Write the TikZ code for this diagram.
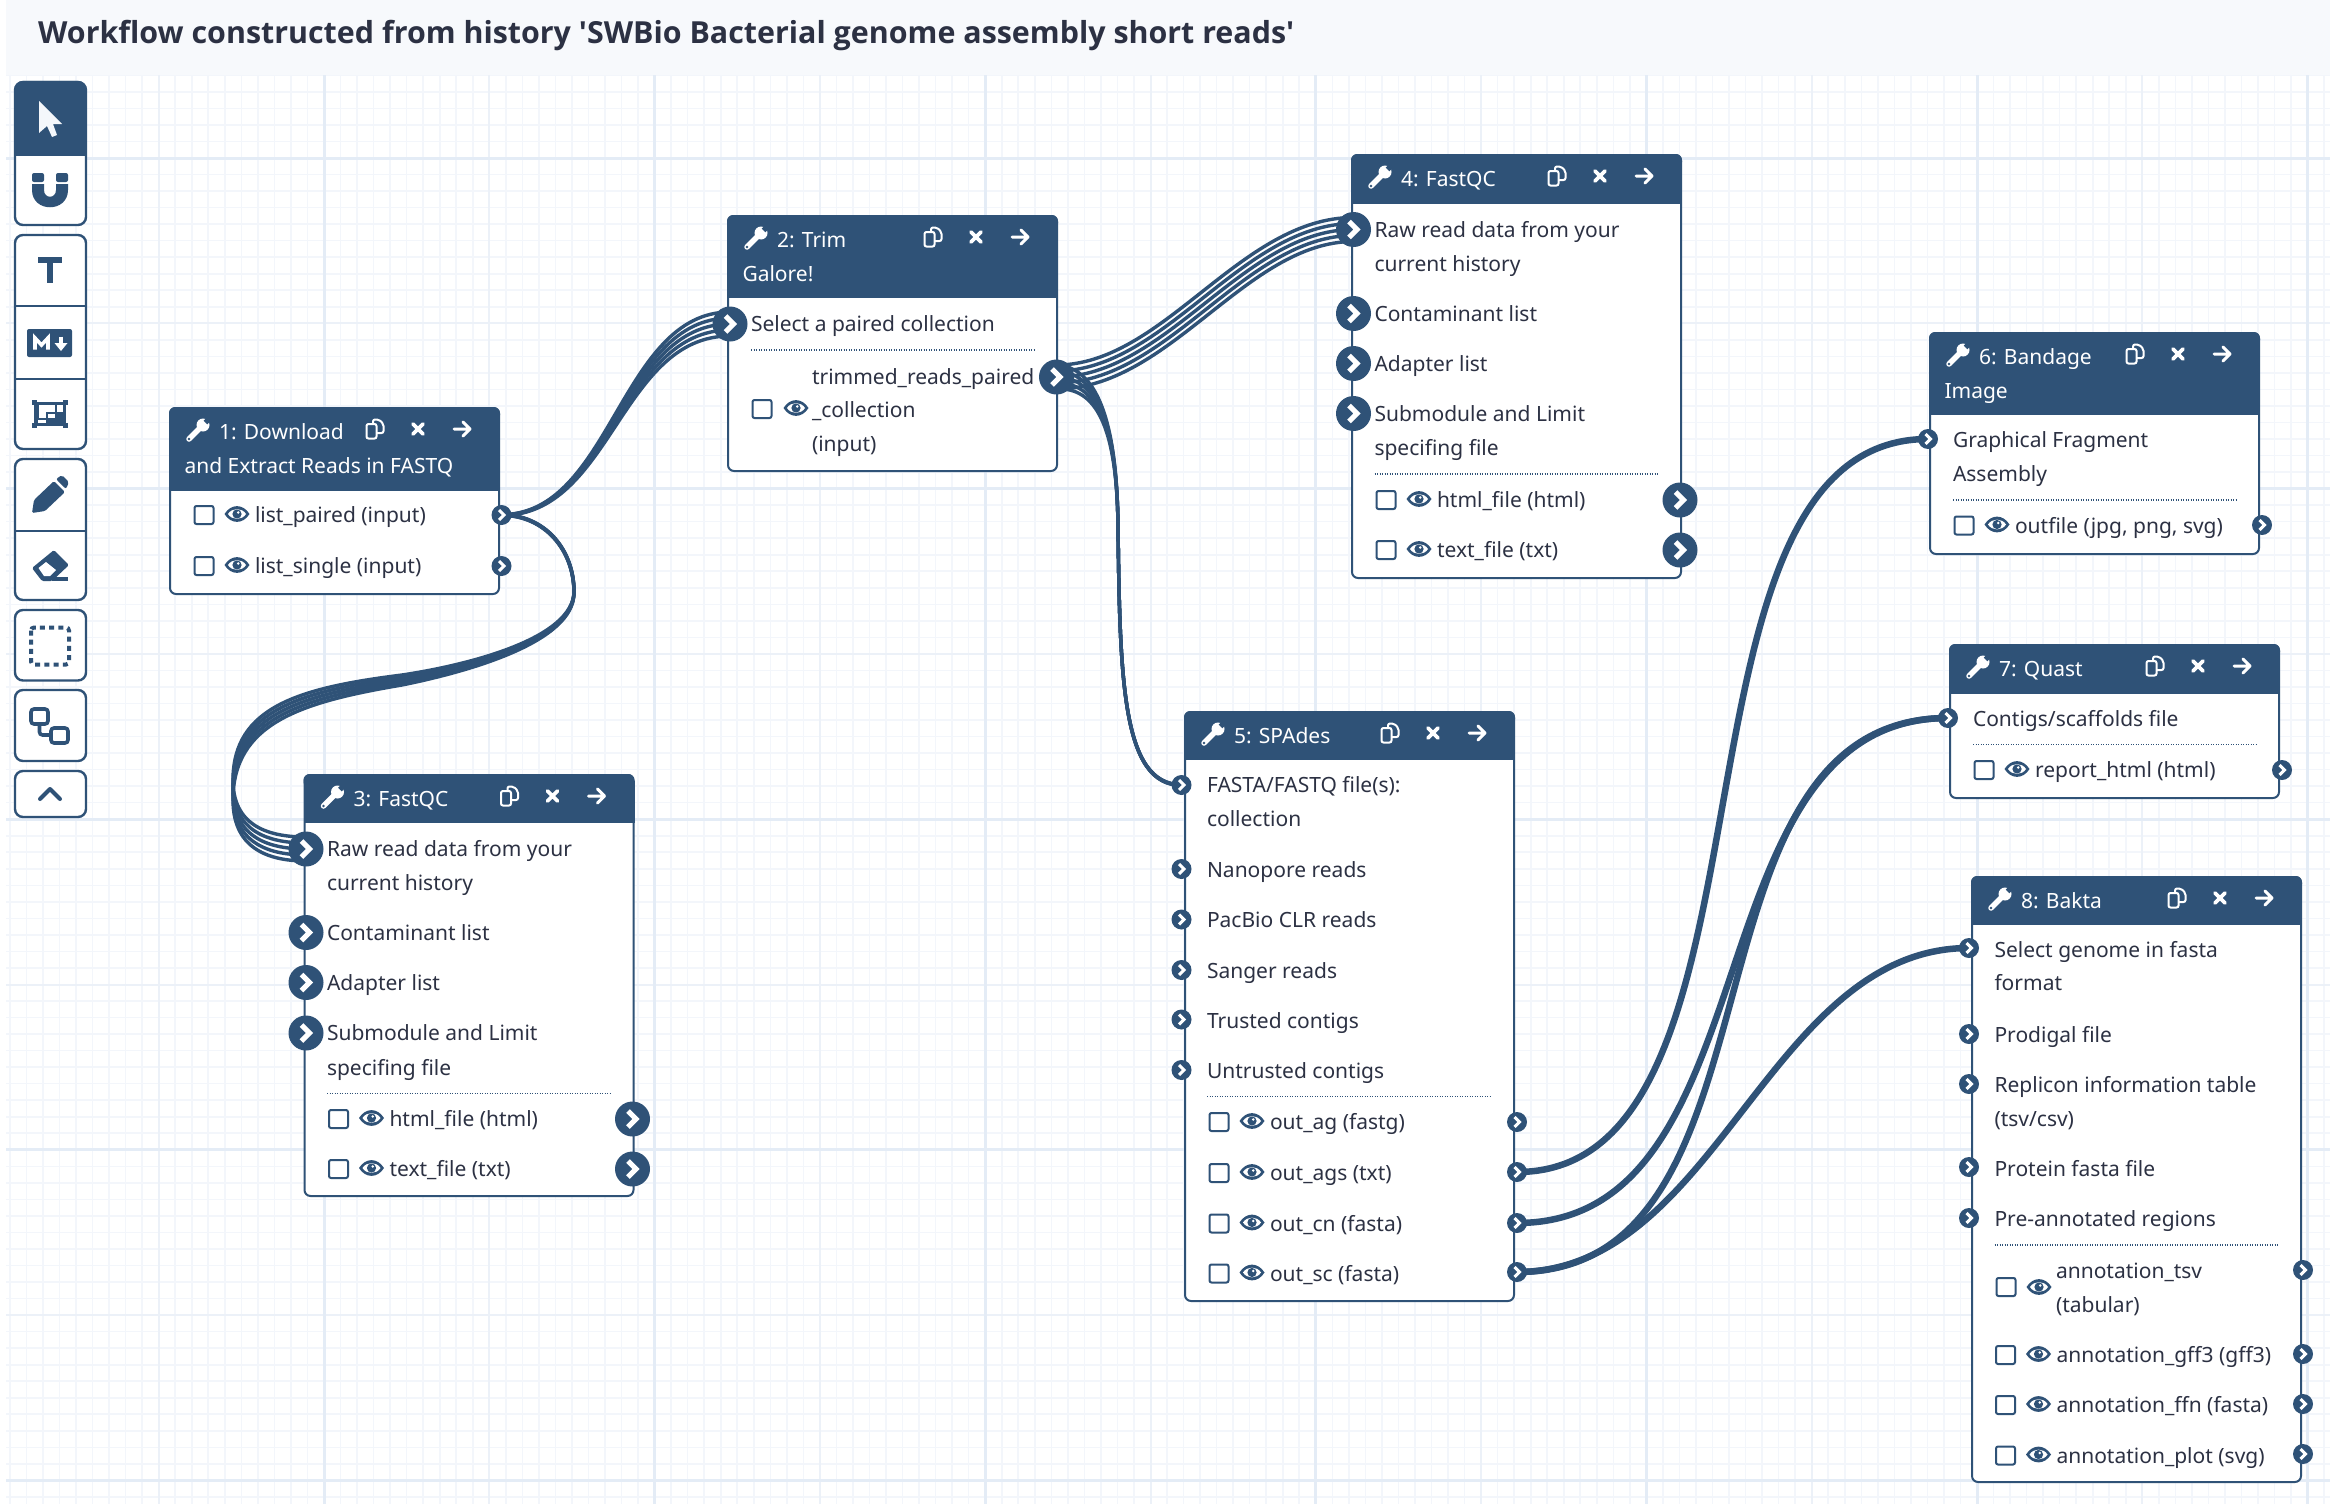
\documentclass[tikz,border=0pt]{standalone}
\usepackage{fontspec}
\setmainfont{Noto Sans}
\newfontfamily\titlefont{Open Sans}
\usetikzlibrary{calc}
\definecolor{flow}{HTML}{2F5277}
\definecolor{ink}{HTML}{2C3143}
\definecolor{barbg}{HTML}{F7F9FC}
\definecolor{gmin}{HTML}{F3F6FB}
\definecolor{gmid}{HTML}{ECF1F8}
\definecolor{gmaj}{HTML}{E4ECF6}
\definecolor{arrowwhite}{HTML}{F4F7FB}
\pgfdeclarelayer{background}
\pgfdeclarelayer{conn}
\pgfsetlayers{background,conn,main}
\tikzset{
  nbox/.style={draw=flow,line width=2pt,fill=white,rounded corners=6pt,anchor=north west,minimum width=329pt,outer sep=0pt,inner sep=0pt},
  txt/.style={font=\fontsize{21}{21}\selectfont,text=ink,anchor=base west,inner sep=0pt,outer sep=0pt},
  htxt/.style={font=\fontsize{21}{21}\selectfont,text=white,anchor=base west,inner sep=0pt,outer sep=0pt},
  bigp/.style={circle,fill=flow,minimum size=35pt,inner sep=0pt,outer sep=0pt},
  smallp/.style={circle,fill=flow,minimum size=20pt,inner sep=0pt,outer sep=0pt},
  chevb/.style={draw=white,line width=5pt},
  chevs/.style={draw=white,line width=3pt},
  strand/.style={draw=flow,line width=3.4pt},
  single/.style={draw=flow,line width=6.5pt},
  dots/.style={draw=flow,line width=1.3pt,dash pattern=on 1.2pt off 1.3pt},
  tool/.style={draw=flow,line width=2.4pt,rounded corners=8pt,fill=white},
  tooldiv/.style={draw=flow,line width=2.4pt},
  pics/wrenchicon/.style={code={
    \draw[white,line width=5.5pt,line cap=round] (-9,9)--(3,-3);
    \fill[white] (5,-5) circle (6.5);
    \draw[flow,line width=5pt] (7.5,-7.5)--(13,-13);
    \fill[flow] (-9,9) circle (1.3);
  }},
  pics/copyicon/.style={code={
    \draw[white,line width=2pt,rounded corners=2pt] (-2,4)--(-2,-9.5)--(4,-9.5)--(8.5,-5)--(8.5,4)--cycle;
    \draw[white,line width=2pt,rounded corners=2pt,fill=flow] (-8.5,-5)--(1.5,-5)--(1.5,9.5)--(-8.5,9.5)--cycle;
  }},
  pics/xicon/.style={code={
    \draw[white,line width=3.8pt,line cap=round] (-5,-5)--(5,5) (-5,5)--(5,-5);
  }},
  pics/arrowicon/.style={code={
    \draw[white,line width=3pt,line cap=round,line join=round] (-8,0)--(8,0) (1,-7)--(8,0)--(1,7);
  }},
  pics/checkicon/.style={code={
    \draw[flow,line width=2pt,fill=white,rounded corners=2pt] (-9.5,-9)rectangle(9.5,9);
  }},
  pics/eyeicon/.style={code={
    \fill[flow] (-12.5,0) .. controls (-6,-10.5) and (6,-10.5) .. (12.5,0) .. controls (6,10.5) and (-6,10.5) .. (-12.5,0);
    \fill[white] (-9,0) .. controls (-5,-6.5) and (5,-6.5) .. (9,0) .. controls (5,6.5) and (-5,6.5) .. (-9,0);
    \fill[flow] (0,0) circle (4.6);
    \fill[white] (1.2,-1.5) circle (1.4);
  }},
}
\newcount\tcnt
\newcommand\putt[3]{\global\advance\tcnt by 1 \node[txt] (t\the\tcnt) at (#1,#2+7.5) {#3};}
\newcommand\wfnode[7]{% name x y h headh line1 line2
  \begin{pgfonlayer}{background}
    \node[nbox,minimum height=#4pt] (#1) at (#2,#3+1) {};
    \fill[flow,rounded corners=6pt] (#2-1,#3) rectangle (#2+330,#3+14);
    \fill[flow] (#2-1,#3+7) rectangle (#2+330,#3+#5);
  \end{pgfonlayer}
  \pic at (#2+28,#3+23) {wrenchicon};
  \node[htxt] (#1h1) at (#2+49,#3+32.5) {#6};
  \node[htxt] (#1h2) at (#2+14.5,#3+66.5) {#7\strut};
  \pic at (#2+205,#3+22) {copyicon};
  \pic at (#2+248,#3+22) {xicon};
  \pic at (#2+292,#3+22) {arrowicon};
}
\newcommand\bigport[3]{\node[bigp] (#1) at (#2,#3) {}; \draw[chevb,shift={(#2,#3)}] (-4.5,-8)--(3.5,0)--(-4.5,8);}
\newcommand\smallport[3]{\node[smallp] (#1) at (#2,#3) {}; \draw[chevs,shift={(#2,#3)}] (-2.5,-5)--(2.5,0)--(-2.5,5);}
\newcommand\outrow[3]{% left y text
  \pic at (#1+34,#2) {checkicon};
  \pic at (#1+67,#2-1) {eyeicon};
  \putt{#1+85}{#2}{#3}
}
% from to startoffset endoffset d controlxshift
\newcommand\bundle[6]{
  \foreach \k in {-2,-1,0,1,2}{
    \draw[strand] ($(#1)+(0,\k*#3)$) .. controls ($(#1)+(#5+\k*#6,\k*#3)$) and ($(#2)+(-#5+\k*#6,\k*#4)$) .. ($(#2)+(0,\k*#4)$);
  }
}
\newcommand\link[3]{\draw[single] (#1.center) .. controls ($(#1)+(#3,0)$) and ($(#2)+(-#3,0)$) .. (#2.center);}
\begin{document}
\begin{tikzpicture}[x=1pt,y=-1pt]
\useasboundingbox (0,0) rectangle (2330,1504);
\begin{pgfonlayer}{background}
  \fill[white] (0,0) rectangle (2330,1504);
  \begin{scope}
    \clip (6,75) rectangle (2330,1504);
    \foreach \i in {-19,...,122} \draw[gmin,line width=1.6pt] (324+16.53*\i,75)--(324+16.53*\i,1504);
    \foreach \i in {-5,...,82} \draw[gmin,line width=1.6pt] (6,158+16.53*\i)--(2330,158+16.53*\i);
    \foreach \i in {-1,...,12} \draw[gmid,line width=2pt] (324+165.3*\i,75)--(324+165.3*\i,1504);
    \foreach \i in {0,...,8} \draw[gmid,line width=2pt] (6,158+165.3*\i)--(2330,158+165.3*\i);
    \foreach \i in {0,...,6} \draw[gmaj,line width=3pt] (324+330.6*\i,75)--(324+330.6*\i,1504);
    \foreach \i in {0,...,4} \draw[gmaj,line width=3pt] (6,158+330.6*\i)--(2330,158+330.6*\i);
  \end{scope}
  \fill[barbg] (6,0) rectangle (2330,75);
\end{pgfonlayer}
\node[anchor=base west,inner sep=0pt,text=ink,font=\fontsize{30.4}{32}\titlefont\bfseries] (title) at (38,44) {Workflow constructed from history 'SWBio Bacterial genome assembly short reads'};
%% toolbar
\draw[tool] (15,82) rectangle (86,225);
\fill[flow,rounded corners=8pt] (15,81) rectangle (86,110);
\fill[flow] (15,95) rectangle (86,156);
\path[fill=arrowwhite] (39,101)--(62,124)--(53,124)--(57,135)--(52,137)--(47,126)--(39,133)--cycle;
\fill[flow,rounded corners=2pt] (32,173) rectangle (44,182);
\fill[flow,rounded corners=2pt] (56,173) rectangle (68,182);
\fill[flow] (32,184)--(44,184)--(44,190) .. controls (44,199) and (56,199) .. (56,190)--(56,184)--(68,184)--(68,190) .. controls (68,213) and (32,213) .. (32,190)--cycle;
\draw[tool] (15,235) rectangle (86,449);
\draw[tooldiv] (15,306)--(86,306);
\draw[tooldiv] (15,379)--(86,379);
\fill[flow] (38,257) rectangle (62,263);
\fill[flow] (47,257) rectangle (53,283);
\fill[flow,rounded corners=2pt] (27,329) rectangle (72,357);
\draw[white,line width=3.6pt,line join=miter] (35,349.5)--(35,338)--(41.5,345)--(48,338)--(48,349.5);
\draw[white,line width=3.6pt] (61,336.5)--(61,345);
\fill[white] (54.5,343)--(67.5,343)--(61,351)--cycle;
\fill[flow] (34,402) rectangle (66,426);
\fill[flow] (32,400) rectangle (37,405);
\fill[flow] (63,400) rectangle (68,405);
\fill[flow] (32,423) rectangle (37,428);
\fill[flow] (63,423) rectangle (68,428);
\fill[white] (38.5,405) rectangle (55,418);
\fill[white] (57,405) rectangle (62.5,412);
\fill[white] (38,420) rectangle (47,423);
\draw[flow,line width=2.5pt] (47,413) rectangle (60,422);
\draw[tool] (15,459) rectangle (86,600);
\draw[tooldiv] (15,531)--(86,531);
\fill[flow,rounded corners=1.5pt] (32,513)--(34,500)--(54,481)--(65,492)--(45,511)--cycle;
\fill[flow,rounded corners=2pt] (56,479)--(62,475)--(69,482)--(66,489)--cycle;
\fill[flow,rounded corners=1.5pt] (32,568)--(54,550)--(69,565)--(52,581)--(42,581)--cycle;
\fill[white] (38.5,568)--(46,562)--(56,570)--(50,576)--(44,576)--cycle;
\fill[flow] (52,577) rectangle (68,581);
\draw[tool] (15,610) rectangle (86,680.5);
\draw[flow,line width=4pt,dash pattern=on 5pt off 4.2pt,rounded corners=3pt] (31,627.5) rectangle (69,664.5);
\draw[tool] (15,690) rectangle (86,761);
\draw[flow,line width=3.6pt,rounded corners=3pt] (31,709) rectangle (48,724);
\draw[flow,line width=3.6pt,rounded corners=3pt] (51,728) rectangle (68,743);
\draw[flow,line width=3.6pt,rounded corners=3pt] (39.5,724)--(39.5,735)--(51,735);
\draw[tool] (15,771) rectangle (86,817);
\draw[flow,line width=4pt,line cap=round,line join=round] (40,799)--(50,789)--(60,799);
%% node 1
\wfnode{n1}{170}{407}{186}{84}{1: Download}{and Extract Reads in FASTQ}
\outrow{170}{515}{list\_paired (input)}
\outrow{170}{566}{list\_single (input)}
\smallport{o1a}{501.5}{515}
\smallport{o1b}{501.5}{566}
%% node 2
\wfnode{n2}{728}{215}{255}{83}{2: Trim}{Galore!}
\putt{751}{324}{Select a paired collection}
\draw[dots] (751,350)--(1035,350);
\pic at (762,409) {checkicon};
\pic at (796,408) {eyeicon};
\putt{812}{377}{trimmed\_reads\_paired}
\putt{812}{410}{\_collection}
\putt{812}{444}{(input)}
\bigport{i2}{730}{324}
\bigport{o2}{1056.5}{377}
%% node 3
\wfnode{n3}{304.5}{774}{421}{49}{3: FastQC}{}
\putt{327}{849}{Raw read data from your}
\putt{327}{883}{current history}
\putt{327}{933}{Contaminant list}
\putt{327}{983}{Adapter list}
\putt{327}{1033}{Submodule and Limit}
\putt{327}{1067.5}{specifing file}
\draw[dots] (327,1093.5)--(611.5,1093.5);
\outrow{304.5}{1119}{html\_file (html)}
\outrow{304.5}{1169}{text\_file (txt)}
\bigport{i3a}{306}{849}
\bigport{i3b}{306}{932.5}
\bigport{i3c}{306}{982.5}
\bigport{i3d}{306}{1033}
\bigport{o3a}{632.5}{1119}
\bigport{o3b}{632.5}{1169}
%% node 4
\wfnode{n4}{1352}{154}{423}{50}{4: FastQC}{}
\putt{1374.5}{230}{Raw read data from your}
\putt{1374.5}{263.5}{current history}
\putt{1374.5}{314}{Contaminant list}
\putt{1374.5}{363.5}{Adapter list}
\putt{1374.5}{414}{Submodule and Limit}
\putt{1374.5}{448}{specifing file}
\draw[dots] (1374.5,474)--(1659,474);
\outrow{1352}{500}{html\_file (html)}
\outrow{1352}{550}{text\_file (txt)}
\bigport{i4a}{1353.5}{229.5}
\bigport{i4b}{1353.5}{313.5}
\bigport{i4c}{1353.5}{363.5}
\bigport{i4d}{1353.5}{413.5}
\bigport{o4a}{1680}{500}
\bigport{o4b}{1680}{550}
%% node 5
\wfnode{n5}{1185}{711}{589}{49}{5: SPAdes}{}
\putt{1207}{785}{FASTA/FASTQ file(s):}
\putt{1207}{818.5}{collection}
\putt{1207}{870}{Nanopore reads}
\putt{1207}{920}{PacBio CLR reads}
\putt{1207}{971}{Sanger reads}
\putt{1207}{1020.5}{Trusted contigs}
\putt{1207}{1070.5}{Untrusted contigs}
\draw[dots] (1207,1096.5)--(1491,1096.5);
\outrow{1185}{1122}{out\_ag (fastg)}
\outrow{1185}{1173}{out\_ags (txt)}
\outrow{1185}{1223.5}{out\_cn (fasta)}
\outrow{1185}{1273.5}{out\_sc (fasta)}
\smallport{i5a}{1181.5}{785}
\smallport{i5b}{1181.5}{869}
\smallport{i5c}{1181.5}{919.5}
\smallport{i5d}{1181.5}{970}
\smallport{i5e}{1181.5}{1019.5}
\smallport{i5f}{1181.5}{1070}
\smallport{o5a}{1517}{1122}
\smallport{o5b}{1517}{1172}
\smallport{o5c}{1517}{1223}
\smallport{o5d}{1517}{1272}
%% node 6
\wfnode{n6}{1930}{332}{221}{83}{6: Bandage}{Image}
\putt{1953}{439.5}{Graphical Fragment}
\putt{1953}{473.5}{Assembly}
\draw[dots] (1953,500)--(2237,500);
\outrow{1930}{525.5}{outfile (jpg, png, svg)}
\smallport{i6}{1928}{439}
\smallport{o6}{2262}{525}
%% node 7
\wfnode{n7}{1950}{644}{153}{50}{7: Quast}{}
\putt{1973}{718.5}{Contigs/scaffolds file}
\draw[dots] (1973,744.5)--(2257,744.5);
\outrow{1950}{770}{report\_html (html)}
\smallport{i7}{1948}{718}
\smallport{o7}{2282}{770}
%% node 8
\wfnode{n8}{1972}{876}{605}{49}{8: Bakta}{}
\putt{1994.5}{949.5}{Select genome in fasta}
\putt{1994.5}{983}{format}
\putt{1994.5}{1034.5}{Prodigal file}
\putt{1994.5}{1084.5}{Replicon information table}
\putt{1994.5}{1118.5}{(tsv/csv)}
\putt{1994.5}{1168.5}{Protein fasta file}
\putt{1994.5}{1218.5}{Pre-annotated regions}
\draw[dots] (1994.5,1245)--(2279,1245);
\pic at (2006,1287) {checkicon};
\pic at (2039,1287) {eyeicon};
\putt{2056}{1270.5}{annotation\_tsv}
\putt{2056}{1304.5}{(tabular)}
\outrow{1971.5}{1355}{annotation\_gff3 (gff3)}
\outrow{1971.5}{1405}{annotation\_ffn (fasta)}
\outrow{1971.5}{1455.5}{annotation\_plot (svg)}
\smallport{i8a}{1969}{948}
\smallport{i8b}{1969}{1034}
\smallport{i8c}{1969}{1084}
\smallport{i8d}{1969}{1167}
\smallport{i8e}{1969}{1218}
\smallport{o8a}{2303}{1270}
\smallport{o8b}{2303}{1354}
\smallport{o8c}{2303}{1404}
\smallport{o8d}{2303}{1454}
%% connectors
\begin{pgfonlayer}{conn}
  \bundle{o1a}{i2}{0.2}{6}{110}{0}
  \foreach \k in {-2,-1,0,1,2}{
    \draw[strand] ($(o1a)+(0,\k*0.2)$)
      .. controls (545,515+\k*0.2) and (574,550+\k*0.3) .. (574,592+\k*0.5)
      .. controls (574,640+\k*0.9) and (470,668+\k*1.6) .. (402,680+\k*2.5)
      .. controls (300,695+\k*3.6) and (233,715+\k*4.2) .. (233,790+\k*5)
      .. controls (233,835+\k*5.6) and (265,849+\k*6) .. ($(i3a)+(0,\k*6)$);
  }
  \bundle{o2}{i4a}{6}{6}{110}{1.5}
  \foreach \k in {-2,-1,0,1,2}{
    \draw[strand] ($(o2)+(0,\k*6)$)
      .. controls (1095,377+\k*5) and (1117,420+\k*2) .. (1118,527+\k*0.3)
      .. controls (1120,680+\k*0.2) and (1122,785+\k*0.2) .. ($(i5a)+(0,\k*0.2)$);
  }
  \link{o5b}{i6}{280}
  \link{o5c}{i7}{260}
  \link{o5d}{i7}{280}
  \link{o5d}{i8a}{200}
\end{pgfonlayer}
\end{tikzpicture}
\end{document}
